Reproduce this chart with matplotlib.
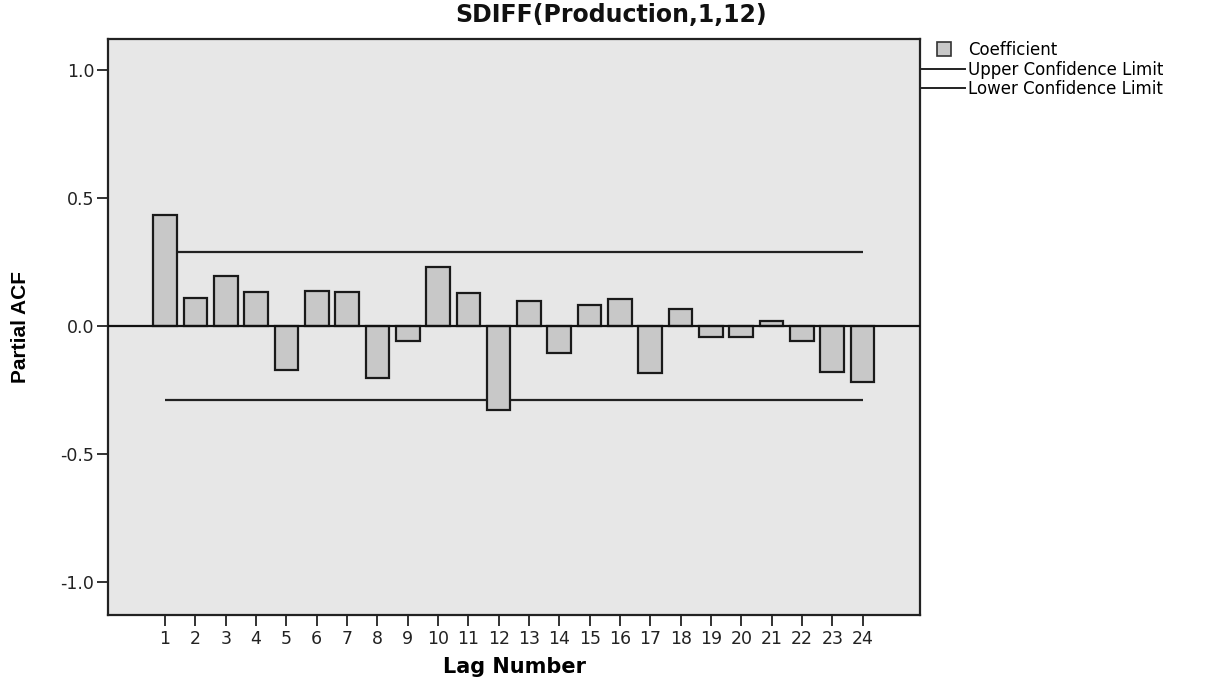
import numpy as np
import matplotlib.pyplot as plt
from matplotlib.lines import Line2D

plt.rcParams['font.family'] = ['DejaVu Sans']

lags = list(range(1, 25))
pacf = [0.43, 0.108, 0.193, 0.133, -0.173, 0.137, 0.130, -0.206, -0.061, 0.230,
        0.126, -0.329, 0.098, -0.108, 0.081, 0.103, -0.186, 0.064, -0.044, -0.044,
        0.018, -0.060, -0.181, -0.221]
upper_limit = 0.289
lower_limit = -0.291

fig = plt.figure(figsize=(12.14, 6.81), dpi=100)
ax = fig.add_axes([0.089, 0.097, 0.669, 0.846])
ax.set_facecolor('#e7e7e7')

ax.bar(lags, pacf, width=0.78, color='#c8c8c8', edgecolor='#1a1a1a', linewidth=1.6, zorder=3)
ax.axhline(0, color='#111111', linewidth=1.6, zorder=4)
ax.hlines([upper_limit, lower_limit], lags[0], lags[-1], color='#222222', linewidth=1.6, zorder=2)

ax.set_xlim(-0.88, 25.9)
ax.set_ylim(-1.13, 1.12)
ax.set_xticks(lags)
ax.set_xticklabels([str(l) for l in lags])
ax.set_yticks([-1.0, -0.5, 0.0, 0.5, 1.0])
ax.set_yticklabels(['-1.0', '-0.5', '0.0', '0.5', '1.0'])
ax.tick_params(axis='both', direction='out', length=8, width=1.3, labelsize=12.5, colors='#222222')
ax.tick_params(axis='x', pad=3)
ax.tick_params(axis='y', pad=2)
for s in ax.spines.values():
    s.set_linewidth(1.6)
    s.set_color('#222222')

# title sits over the whole chart, legend included
fig.text(0.503, 1 - 15 / 681, 'SDIFF(Production,1,12)', ha='center', va='center',
         fontsize=17, fontweight='bold', color='#111111')
ax.set_xlabel('Lag Number', fontsize=15, fontweight='bold', labelpad=6)
ax.set_ylabel('Partial ACF', fontsize=15, fontweight='bold', labelpad=22,
              family=['Liberation Sans', 'DejaVu Sans'])

handles = [Line2D([], [], linestyle='none', marker='s', markersize=10,
                  markerfacecolor='#c8c8c8', markeredgecolor='#333333', markeredgewidth=1.2),
           Line2D([0], [0], color='#222222', linewidth=1.4),
           Line2D([0], [0], color='#222222', linewidth=1.4)]
fig.legend(handles, ['Coefficient', 'Upper Confidence Limit', 'Lower Confidence Limit'],
           loc='upper left', bbox_to_anchor=(0.7595, 0.94), frameon=False, fontsize=12,
           handlelength=2.6, handletextpad=0.15, labelspacing=0.1, borderaxespad=0,
           borderpad=0)

fig.savefig('out.png', dpi=100)
